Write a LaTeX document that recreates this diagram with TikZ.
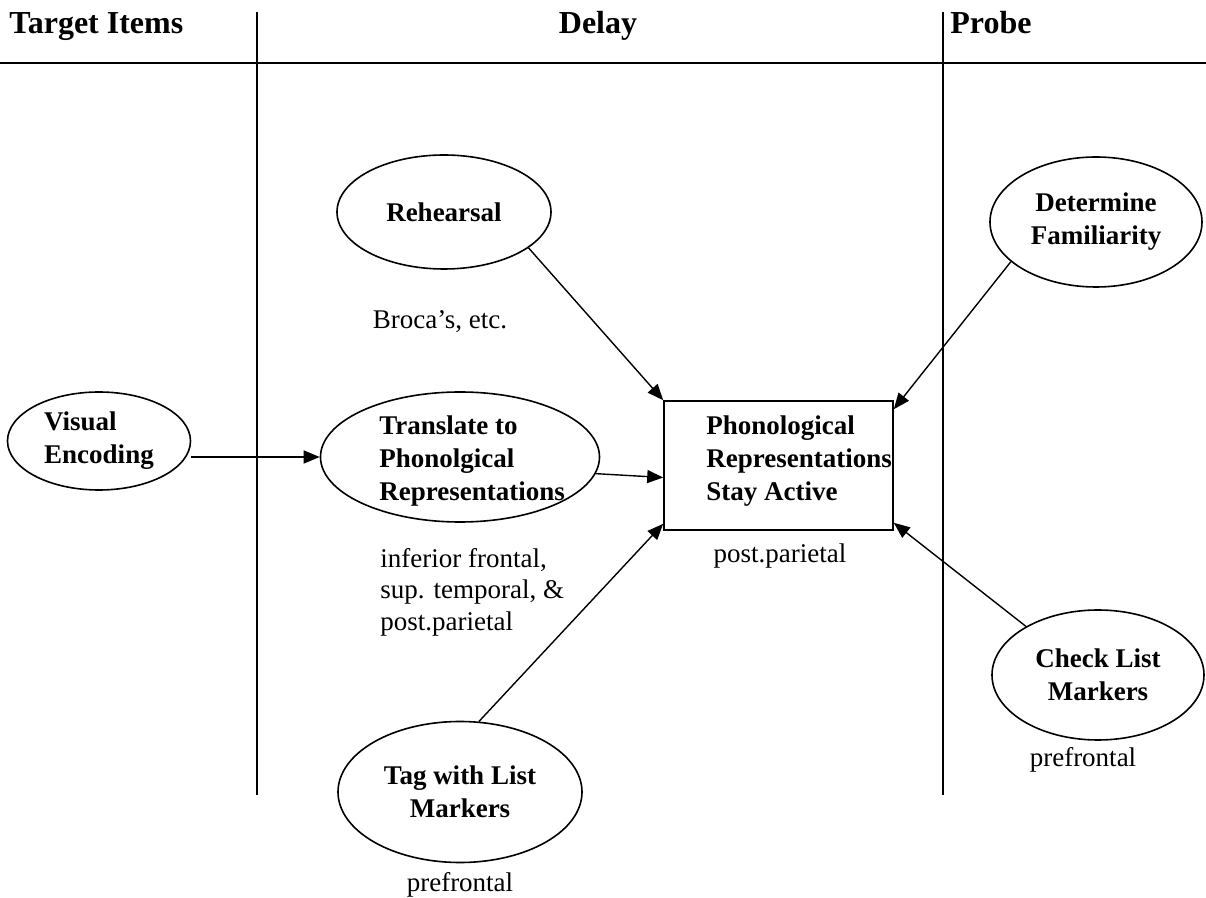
\documentclass[tikz,border=0pt]{standalone}
\usepackage{fontspec}
\setmainfont{Liberation Serif}
\usetikzlibrary{shapes.geometric,arrows.meta}

\begin{document}
\begin{tikzpicture}[x=0.5pt, y=-0.5pt, >={Triangle[length=8pt,width=6.5pt]},
  every node/.style={font=\fontsize{13.5}{15.75}\selectfont},
  head/.style={inner sep=0pt, font=\fontsize{16}{19}\selectfont\bfseries},
  stage/.style={draw, thick, ellipse, inner sep=0pt, align=center,
    font=\fontsize{13.5}{16.5}\selectfont\bfseries},
  stagetext/.style={inner sep=0pt, align=left, font=\fontsize{13.5}{16.5}\selectfont\bfseries},
  area/.style={inner sep=0pt, align=left},
  link/.style={->, line width=0.7pt}]
\useasboundingbox (0,0) rectangle (1206,898);

% column heads and rules
\node[head, anchor=base west] (htarget) at (9,34) {Target Items};
\node[head, anchor=base] (hdelay) at (598,34) {Delay};
\node[head, anchor=base west] (hprobe) at (950,34) {Probe};
\draw[line width=1.4pt] (0,63) -- (1206,63);
\draw[line width=0.8pt] (257,12) -- (257,795);
\draw[line width=0.8pt] (943,12) -- (943,795);

% target items
\node[stage, align=left, minimum width=91.5pt, minimum height=49pt] (ve) at (99,441) {Visual\\Encoding};

% delay
\node[stage, minimum width=107pt, minimum height=57pt] (reh) at (444,212) {Rehearsal};
\node[area] (broca) at (440,322) {Broca’s, etc.};
\node[draw, thick, ellipse, minimum width=139.5pt, minimum height=65pt] (tr) at (460,457) {};
\node[stagetext, anchor=west] (trtext) at (379,461) {Translate to\\Phonolgical\\Representations};
\node[area, anchor=west] (trarea) at (380,592) {inferior frontal,\\sup. temporal, \&\\post.parietal};
\node[draw, thick, minimum width=114.5pt, minimum height=64.5pt] (act) at (778.5,465.5) {};
\node[stagetext, anchor=west] (acttext) at (706,461) {Phonological\\Representations\\Stay Active};
\node[area] (actarea) at (780,556) {post.parietal};
\node[stage, minimum width=122pt, minimum height=70.5pt] (tag) at (460,792) {Tag with List\\Markers};
\node[area] (tagarea) at (460,885) {prefrontal};

% probe
\node[stage, minimum width=106pt, minimum height=65pt] (det) at (1096,222) {Determine\\Familiarity};
\node[stage, minimum width=106pt, minimum height=65pt] (chk) at (1098,675) {Check List\\Markers};
\node[area] (chkarea) at (1083,760) {prefrontal};

% connectors
\draw[link] (ve.east |- tr.west) -- (tr.west);
\draw[link] (tr.-7) -- ([yshift=-6pt]act.west);
\draw[link] (reh.-23) -- (act.north west);
\draw[link] (det.205) -- ([yshift=-4.5pt]act.north east);
\draw[link] (chk.146) -- ([yshift=4pt]act.south east);
\draw[link] (tag.75) -- ([yshift=3.5pt]act.south west);
\end{tikzpicture}
\end{document}
